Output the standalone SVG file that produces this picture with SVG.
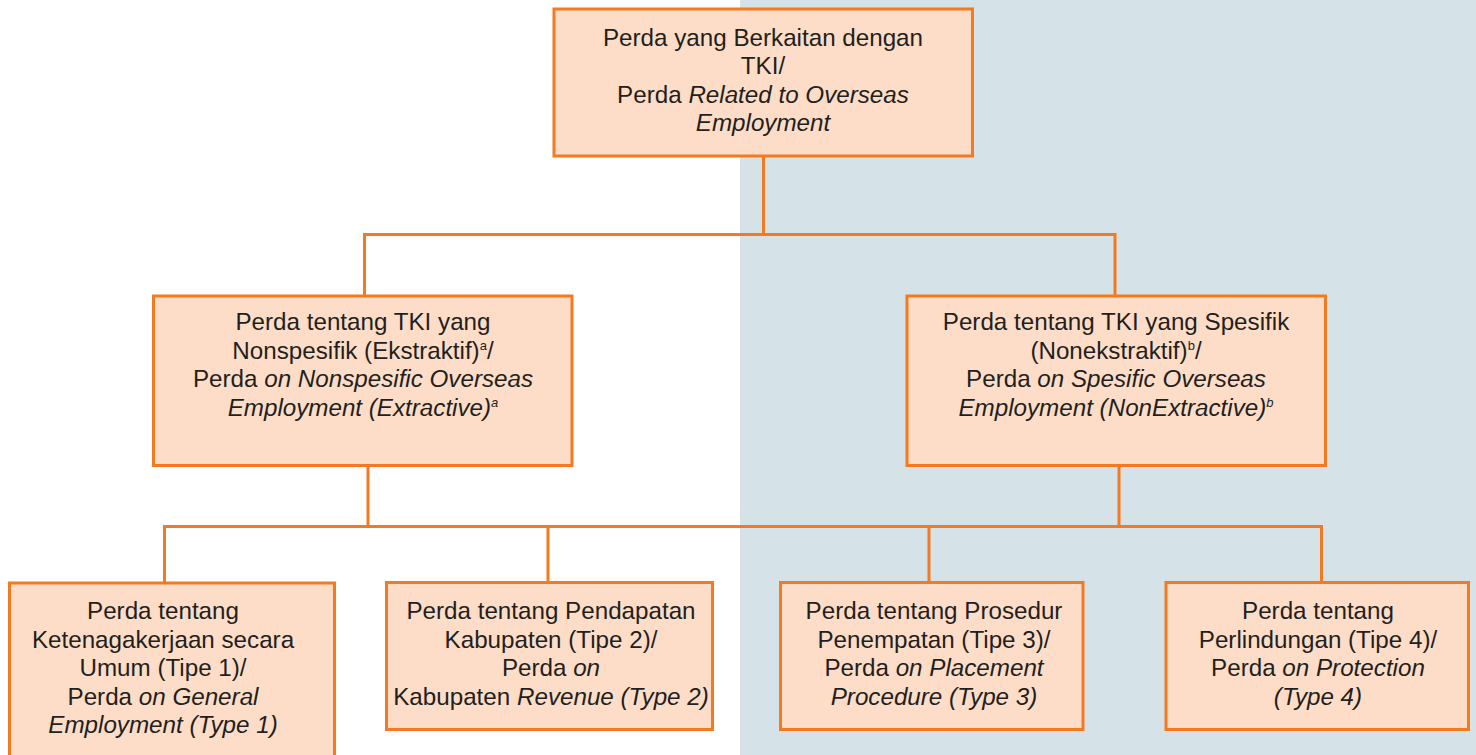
<svg xmlns="http://www.w3.org/2000/svg" width="1476" height="755" viewBox="0 0 1476 755">
<style>
.box{fill:#FDDDC7;stroke:#F47A22;stroke-width:3}
.ln{fill:none;stroke:#F47A22;stroke-width:3}
text{font-family:"Liberation Sans",Arial,sans-serif;font-size:24.2px;fill:#231F20;text-anchor:middle}
.i{font-style:italic}
.sup{font-size:13px}
</style>
<rect x="0" y="0" width="1476" height="755" fill="#FFFFFF"/>
<rect x="740" y="0" width="736" height="755" fill="#D5E3E8"/>
<g id="connectors">
<path class="ln" d="M763.5 156V234.5M364.5 234.5H1115M364.5 233V296M1115 233V296"/>
<path class="ln" d="M368 466V526.5M1119 466V526.5M164.5 526.5H1321.5M164.5 525V583M548 525V582M929 525V582M1321.5 525V582"/>
</g>
<g id="n0">
<rect class="box" x="554" y="9" width="418.5" height="147"/>
<text x="763" y="45.5">Perda yang Berkaitan dengan</text>
<text x="763" y="74">TKI/</text>
<text x="763" y="102.5">Perda <tspan class="i">Related to Overseas</tspan></text>
<text x="763" y="131" class="i">Employment</text>
</g>
<g id="n1">
<rect class="box" x="153.5" y="296" width="418.5" height="169.5"/>
<text x="363" y="330">Perda tentang TKI yang</text>
<text x="363" y="358.5">Nonspesifik (Ekstraktif)<tspan class="sup" dy="-9">a</tspan><tspan dy="9">/</tspan></text>
<text x="363" y="387">Perda <tspan class="i">on Nonspesific Overseas</tspan></text>
<text x="363" y="415.5" class="i">Employment (Extractive)<tspan class="sup" dy="-9">a</tspan></text>
</g>
<g id="n2">
<rect class="box" x="907" y="296" width="418.5" height="169.5"/>
<text x="1116" y="330">Perda tentang TKI yang Spesifik</text>
<text x="1116" y="358.5">(Nonekstraktif)<tspan class="sup" dy="-9">b</tspan><tspan dy="9">/</tspan></text>
<text x="1116" y="387">Perda <tspan class="i">on Spesific Overseas</tspan></text>
<text x="1116" y="415.5" class="i">Employment (NonExtractive)<tspan class="sup" dy="-9">b</tspan></text>
</g>
<g id="n3">
<rect class="box" x="9.5" y="583" width="325" height="190"/>
<text x="163" y="619">Perda tentang</text>
<text x="163" y="647.5">Ketenagakerjaan secara</text>
<text x="163" y="676">Umum (Tipe 1)/</text>
<text x="163" y="704.5">Perda <tspan class="i">on General</tspan></text>
<text x="163" y="733" class="i">Employment (Type 1)</text>
</g>
<g id="n4">
<rect class="box" x="386.5" y="582.5" width="326" height="147"/>
<text x="551" y="619">Perda tentang Pendapatan</text>
<text x="551" y="647.5">Kabupaten (Tipe 2)/</text>
<text x="551" y="676">Perda <tspan class="i">on</tspan></text>
<text x="551" y="704.5">Kabupaten <tspan class="i">Revenue (Type 2)</tspan></text>
</g>
<g id="n5">
<rect class="box" x="780.5" y="582.5" width="302.5" height="147"/>
<text x="934" y="619">Perda tentang Prosedur</text>
<text x="934" y="647.5">Penempatan (Tipe 3)/</text>
<text x="934" y="676">Perda <tspan class="i">on Placement</tspan></text>
<text x="934" y="704.5" class="i">Procedure (Type 3)</text>
</g>
<g id="n6">
<rect class="box" x="1166" y="582.5" width="302.5" height="147"/>
<text x="1318" y="619">Perda tentang</text>
<text x="1318" y="647.5">Perlindungan (Tipe 4)/</text>
<text x="1318" y="676">Perda <tspan class="i">on Protection</tspan></text>
<text x="1318" y="704.5" class="i">(Type 4)</text>
</g>
</svg>
